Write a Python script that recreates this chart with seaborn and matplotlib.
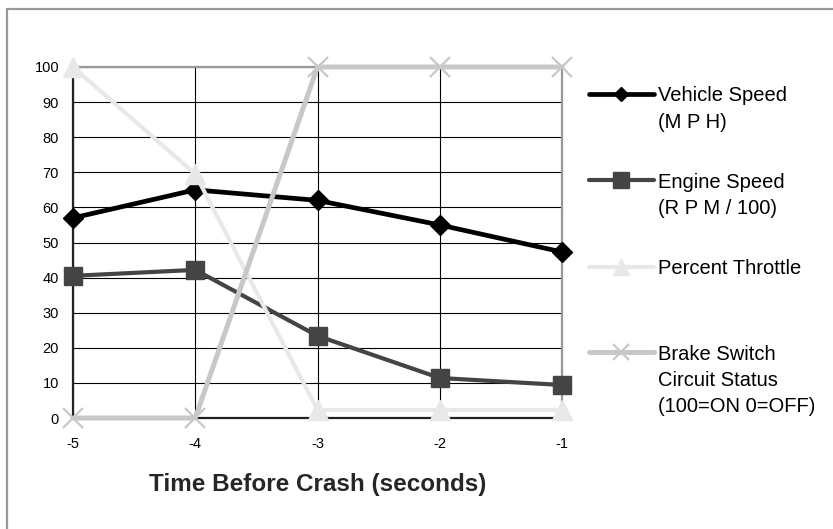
import matplotlib
matplotlib.use("Agg")
import matplotlib.pyplot as plt
from matplotlib.lines import Line2D
import seaborn as sns
import pandas as pd

time = [-5, -4, -3, -2, -1]
vehicle_speed = [57, 65, 62, 55, 47.3]
engine_speed = [40.5, 42.2, 23.4, 11.4, 9.4]
throttle = [100, 69.5, 2.3, 2.3, 2.3]
brake = [0, 0, 100, 100, 100]
labels = ["Vehicle Speed\n(M P H)", "Engine Speed\n(R P M / 100)", "Percent Throttle",
          "Brake Switch\nCircuit Status\n(100=ON 0=OFF)"]
yticks = [0, 10, 20, 30, 40, 50, 60, 70, 80, 90, 100]
xlabel = "Time Before Crash (seconds)"

sns.set_theme(style="white")
plt.rcParams['font.family'] = ['Liberation Sans', 'DejaVu Sans']

W, H = 833, 529
PX = 72 / 100  # points per pixel
fig = plt.figure(figsize=(W / 100, H / 100), dpi=100)
L, R, T, B = 73, 562, 67, 418
ax = fig.add_axes([L / W, (H - B) / H, (R - L) / W, (B - T) / H])

styles = [
    dict(color="#000000", marker="D", ms=10.5, lw=3.4, mew=1, lms=7.5),
    dict(color="#444444", marker="s", ms=13.5, lw=3.0, mew=1, lms=11),
    dict(color="#e8e8e8", marker="^", ms=14, lw=3.0, mew=1, lms=11),
    dict(color="#c8c8c8", marker="x", ms=15, lw=3.6, mew=1.6, lms=11),
]
series = [vehicle_speed, engine_speed, throttle, brake]

for vals, st in zip(series, styles):
    df = pd.DataFrame({"t": time, "v": vals})
    sns.lineplot(data=df, x="t", y="v", ax=ax, color=st["color"], marker=st["marker"],
                 markersize=st["ms"], linewidth=st["lw"], clip_on=False, zorder=3,
                 markeredgecolor=st["color"], markeredgewidth=st["mew"])

ax.set_xlim(-5, -1)
ax.set_ylim(0, 100)
ax.set_xticks(time)
ax.set_xticklabels([str(t) for t in time], fontsize=10.5)
ax.set_yticks(yticks)
ax.set_yticklabels([str(v) for v in yticks], fontsize=10.5)
ax.grid(True, color="black", linewidth=0.8)
ax.set_axisbelow(True)
for s in ["top", "right"]:
    ax.spines[s].set_color("#999999")
    ax.spines[s].set_linewidth(1.6)
for s in ["left", "bottom"]:
    ax.spines[s].set_color("#222222")
    ax.spines[s].set_linewidth(1.6)
ax.tick_params(axis="both", length=4, width=1, color="#222222", direction="out", labelcolor="black")
ax.tick_params(axis="x", pad=10)
ax.tick_params(axis="y", pad=6)
ax.set_ylabel("")
ax.set_xlabel(xlabel, fontsize=17.5, fontweight="bold", va="baseline")
ax.xaxis.set_label_coords(0.5, (B - 491) / (B - T))

# figure frame (left and top edges visible)
fig.add_artist(Line2D([7 / W, 7 / W], [0, (H - 9) / H], color="#999999", lw=1.6,
                      transform=fig.transFigure))
fig.add_artist(Line2D([7 / W, 1.0], [(H - 9) / H, (H - 9) / H], color="#999999", lw=1.6,
                      transform=fig.transFigure))

# legend
leg_y = [94, 180, 267, 352]
for st, lab, yy in zip(styles, labels, leg_y):
    yf = (H - yy) / H
    fig.add_artist(Line2D([589 / W, 654 / W], [yf, yf], color=st["color"], lw=st["lw"],
                          transform=fig.transFigure))
    fig.add_artist(Line2D([621 / W], [yf], color=st["color"], marker=st["marker"],
                          markersize=st["lms"], markeredgecolor=st["color"],
                          markeredgewidth=st["mew"], transform=fig.transFigure))
    for i, line in enumerate(lab.split("\n")):
        fig.text(658 / W, (H - (yy + 7.5 + i * 26.5)) / H, line, fontsize=14.5,
                 va="baseline", ha="left", color="black")

fig.savefig("out.png", dpi=100)
